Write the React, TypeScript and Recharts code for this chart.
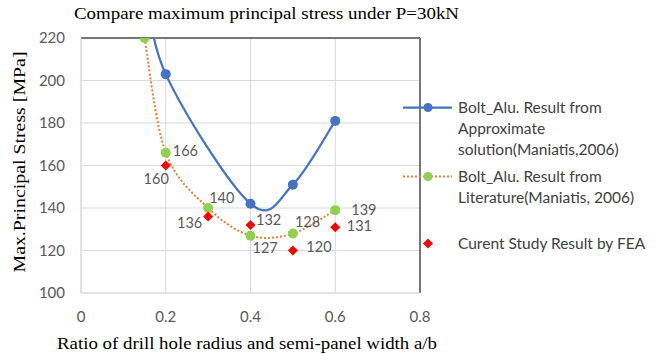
import React from 'react';
import {
  ComposedChart, Line, Scatter, XAxis, YAxis, CartesianGrid, ReferenceLine, LabelList, Label,
} from 'recharts';

// a/b ratios
const approxX = [0.15, 0.2, 0.4, 0.5, 0.6];
const approxY = [250, 203, 142, 151, 181];
const litX = [0.15, 0.2, 0.3, 0.4, 0.5, 0.6];
const litY = [220, 166, 140, 127, 128, 139];
const feaX = [0.2, 0.3, 0.4, 0.5, 0.6];
const feaY = [160, 136, 132, 120, 131];
const xTicks = [0, 0.2, 0.4, 0.6, 0.8];
const yTicks = [100, 120, 140, 160, 180, 200, 220];

const approxData = approxX.map((x, i) => ({ x, y: approxY[i] }));
const litData = litX.map((x, i) => ({ x, y: litY[i] }));
const feaData = feaX.map((x, i) => ({ x, y: feaY[i] }));

// label placement (dx, dy, anchor) per point
const litLabelPos: ([number, number, string] | null)[] = [
  null, [7, -2, 'start'], [1, -11, 'start'], [2, 12, 'start'], [2, -12, 'start'], [16, -1, 'start'],
];
const feaLabelPos: [number, number, string][] = [
  [-5, 18, 'middle'], [-14, 11, 'middle'], [10, -1, 'start'], [18, 1, 'start'], [16, 3, 'start'],
];

const SANS = 'Lato, "Liberation Sans", sans-serif';
const SERIF = '"Liberation Serif", "Times New Roman", serif';

// Excel-style smoothed line (Catmull-Rom through points)
function excelCurve(context: any) {
  let pts: number[][] = [];
  return {
    areaStart() {},
    areaEnd() {},
    lineStart() { pts = []; },
    point(x: number, y: number) { pts.push([+x, +y]); },
    lineEnd() {
      if (!pts.length) return;
      context.moveTo(pts[0][0], pts[0][1]);
      for (let i = 0; i < pts.length - 1; i++) {
        const p0 = pts[Math.max(i - 1, 0)];
        const p1 = pts[i];
        const p2 = pts[i + 1];
        const p3 = pts[Math.min(i + 2, pts.length - 1)];
        context.bezierCurveTo(
          p1[0] + (p2[0] - p0[0]) / 6, p1[1] + (p2[1] - p0[1]) / 6,
          p2[0] - (p3[0] - p1[0]) / 6, p2[1] - (p3[1] - p1[1]) / 6,
          p2[0], p2[1],
        );
      }
    },
  };
}

const makeLabel = (pos: any[]) => (props: any) => {
  const { x, y, value, index } = props;
  const p = pos[index];
  if (!p) return null;
  return (
    <text x={x + p[0]} y={y + p[1]} textAnchor={p[2]} dominantBaseline="central"
      fontFamily={SANS} fontSize={14.5} fill="#595959">{value}</text>
  );
};

const Diamond = (props: any) => {
  const { cx, cy } = props;
  const r = 5;
  return <polygon points={`${cx},${cy - r} ${cx + r},${cy} ${cx},${cy + r} ${cx - r},${cy}`} fill="#FF0000" />;
};

function LegendBlock() {
  const row: React.CSSProperties = { position: 'absolute', left: 0, display: 'flex', alignItems: 'flex-start' };
  const txt: React.CSSProperties = { marginLeft: 58, lineHeight: '21px', fontFamily: SANS, fontSize: 15.5, color: '#404040', whiteSpace: 'nowrap' };
  return (
    <div style={{ position: 'absolute', left: 400, top: 97, width: 263 }}>
      <div style={{ ...row, top: 0 }}>
        <svg width={56} height={21} style={{ position: 'absolute', left: 0, top: 0 }}>
          <line x1={3} x2={52} y1={10.5} y2={10.5} stroke="#4472C4" strokeWidth={2.25} />
          <circle cx={28} cy={10.5} r={4.5} fill="#4472C4" />
        </svg>
        <div style={txt}>Bolt_Alu. Result from<br />Approximate<br />solution(Maniatis,2006)</div>
      </div>
      <div style={{ ...row, top: 69 }}>
        <svg width={56} height={21} style={{ position: 'absolute', left: 0, top: 0 }}>
          <line x1={3} x2={52} y1={10.5} y2={10.5} stroke="#ED7D31" strokeWidth={2} strokeDasharray="2 2" />
          <circle cx={28} cy={10.5} r={4.5} fill="#92D050" />
        </svg>
        <div style={txt}>Bolt_Alu. Result from<br />Literature(Maniatis, 2006)</div>
      </div>
      <div style={{ ...row, top: 136 }}>
        <svg width={56} height={21} style={{ position: 'absolute', left: 0, top: 0 }}>
          <polygon points="28,5.5 33,10.5 28,15.5 23,10.5" fill="#FF0000" />
        </svg>
        <div style={txt}>Curent Study Result by FEA</div>
      </div>
    </div>
  );
}

export default function App() {
  return (
    <div style={{ position: 'absolute', left: 0, top: 0, width: 663, height: 354, background: '#fff' }}>
      <svg width={663} height={30} style={{ position: 'absolute', left: 0, top: 0 }}>
        <text x={74} y={19} fontFamily={SERIF} fontSize={16} fill="#000" textLength={385} lengthAdjust="spacingAndGlyphs">
          Compare maximum principal stress under P=30kN
        </text>
      </svg>
      <ComposedChart width={663} height={354} margin={{ top: 38, right: 243, bottom: 0, left: 0 }}>
        <CartesianGrid stroke="#D9D9D9" strokeWidth={1} />
        <XAxis dataKey="x" type="number" domain={[0, 0.8]} ticks={xTicks} allowDataOverflow
          height={61} axisLine={{ stroke: '#D9D9D9' }} tickLine={false} tickMargin={12}
          tick={{ fontFamily: SANS, fontSize: 15, fill: '#595959' }}>
          <Label content={() => (
            <text x={57} y={349} fontFamily={SERIF} fontSize={17} fill="#000" textLength={380} lengthAdjust="spacingAndGlyphs">
              Ratio of drill hole radius and semi-panel width a/b
            </text>
          )} />
        </XAxis>
        <YAxis dataKey="y" type="number" domain={[100, 220]} ticks={yTicks} allowDataOverflow
          width={81} axisLine={{ stroke: '#D9D9D9' }} tickLine={false} tickMargin={10}
          tick={{ fontFamily: SANS, fontSize: 15, fill: '#595959' }}>
          <Label content={() => (
            <text x={19} y={162} textAnchor="middle" dominantBaseline="central" transform="rotate(-90 19 162)"
              fontFamily={SERIF} fontSize={17} fill="#000" textLength={221} lengthAdjust="spacingAndGlyphs">
              Max.Principal Stress [MPa]
            </text>
          )} />
        </YAxis>
        <ReferenceLine y={220} stroke="#767676" strokeWidth={2} />
        <ReferenceLine x={0.8} stroke="#767676" strokeWidth={2} />
        <Line data={approxData} dataKey="y" type={excelCurve as any} stroke="#4472C4" strokeWidth={2.25}
          dot={{ r: 5, fill: '#4472C4', stroke: '#4472C4', strokeWidth: 0 }} activeDot={false} isAnimationActive={false} />
        <Line data={litData} dataKey="y" type={excelCurve as any} stroke="#ED7D31" strokeWidth={2} strokeDasharray="2 2"
          dot={{ r: 5, fill: '#92D050', stroke: '#92D050', strokeWidth: 0 }} activeDot={false} isAnimationActive={false}>
          <LabelList dataKey="y" content={makeLabel(litLabelPos)} />
        </Line>
        <Scatter data={feaData} dataKey="y" shape={<Diamond />} isAnimationActive={false}>
          <LabelList dataKey="y" content={makeLabel(feaLabelPos)} />
        </Scatter>
      </ComposedChart>
      <LegendBlock />
    </div>
  );
}
